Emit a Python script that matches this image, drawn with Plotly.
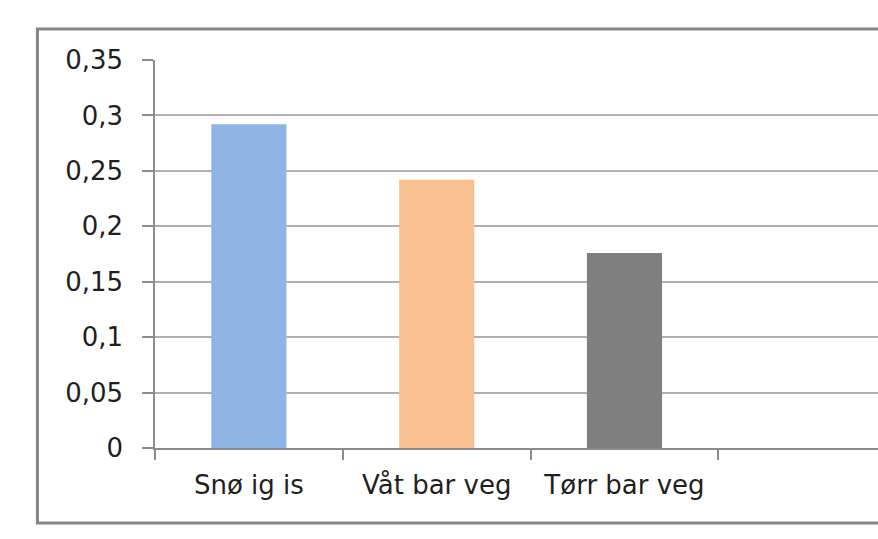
import plotly.graph_objects as go

categories = ["Snø ig is", "Våt bar veg", "Tørr bar veg"]
values = [0.292, 0.242, 0.176]
colors = ["#8EB4E3", "#FAC090", "#7F7F7F"]
y_ticks = [0, 0.05, 0.1, 0.15, 0.2, 0.25, 0.3, 0.35]
y_labels = ["0", "0,05", "0,1", "0,15", "0,2", "0,25", "0,3", "0,35"]

fig = go.Figure(go.Bar(x=categories, y=values, marker=dict(color=colors, line=dict(width=0)), width=0.4))

font = dict(family="DejaVu Sans, sans-serif", size=26, color="#1f1f1f")

fig.update_layout(
    width=878, height=539,
    margin=dict(l=155, r=0, t=60, b=91),
    paper_bgcolor="white", plot_bgcolor="white",
    showlegend=False,
    font=font,
    xaxis=dict(
        range=[-0.5, 3.35], showgrid=False, showline=True, linecolor="#8c8c8c", linewidth=1.5,
        ticks="outside", tickson="boundaries", ticklen=10, tickcolor="#8c8c8c", tickwidth=1.5,
        tickfont=font, ticklabelstandoff=13,
    ),
    yaxis=dict(
        range=[0, 0.35], tickvals=y_ticks, ticktext=y_labels,
        showgrid=True, gridcolor="#b0b0b0", gridwidth=1.5,
        showline=True, linecolor="#8c8c8c", linewidth=1.5,
        ticks="outside", ticklen=11, tickcolor="#8c8c8c", tickwidth=1.5,
        tickfont=font, ticklabelstandoff=14, zeroline=False,
    ),
    shapes=[dict(type="rect", xref="paper", yref="paper",
                 x0=-0.1626, x1=1.05, y0=-0.1933, y1=1.0799,
                 line=dict(color="#858585", width=3), layer="above")],
)

fig.write_html("out.html")
